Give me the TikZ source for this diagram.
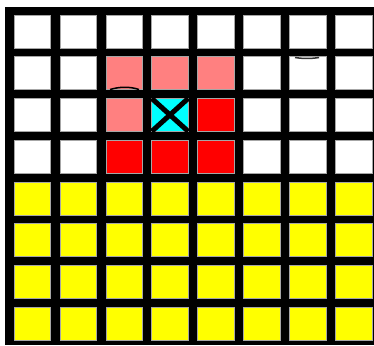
\documentclass[tikz,border=0pt]{standalone}
\definecolor{cellyellow}{RGB}{255,255,0}
\definecolor{cellcyan}{RGB}{0,255,255}
\definecolor{cellred}{RGB}{255,0,0}
\definecolor{cellsalmon}{RGB}{255,128,128}
\begin{document}
\begin{tikzpicture}[x=1pt,y=-1pt,
  cell/.style={draw=gray!70, line width=0.5pt, inner sep=0pt, outer sep=0pt,
    minimum width=36.5pt, minimum height=33pt, anchor=north west},
  cross/.style={line width=5pt, black}]
\useasboundingbox (0,0) rectangle (374,345);
\fill[black] (5,7) rectangle (374,345);
\foreach \j in {0,...,7}{
  \foreach \i in {0,...,7}{
    \ifnum\j<4
      \def\col{white}
    \else
      \def\col{cellyellow}
    \fi
    \node[cell, fill=\col] (c-\i-\j) at ({14+45.9*\i},{15+41.7*\j}) {};
  }
}
% salmon cells
\foreach \i/\j in {2/1,3/1,4/1,2/2}{
  \node[cell, fill=cellsalmon] (s-\i-\j) at ({14+45.9*\i},{15+41.7*\j}) {};
}
% red cells
\foreach \i/\j in {4/2,2/3,3/3,4/3}{
  \node[cell, fill=cellred] (r-\i-\j) at ({14+45.9*\i},{15+41.7*\j}) {};
}
% cyan cell with cross
\node[cell, fill=cellcyan] (cy) at ({14+45.9*3},{15+41.7*2}) {};
\draw[cross] (cy.north west) -- (cy.south east);
\draw[cross] (cy.north east) -- (cy.south west);
% small stray strokes
\draw[line width=1.5pt] (110,89.5) .. controls (120,86.5) and (130,86.5) .. (139,89.5);
\draw[line width=1.5pt, black!80] (295,57.5) .. controls (303,58.8) and (311,58.8) .. (319,57.5);
\end{tikzpicture}
\end{document}
